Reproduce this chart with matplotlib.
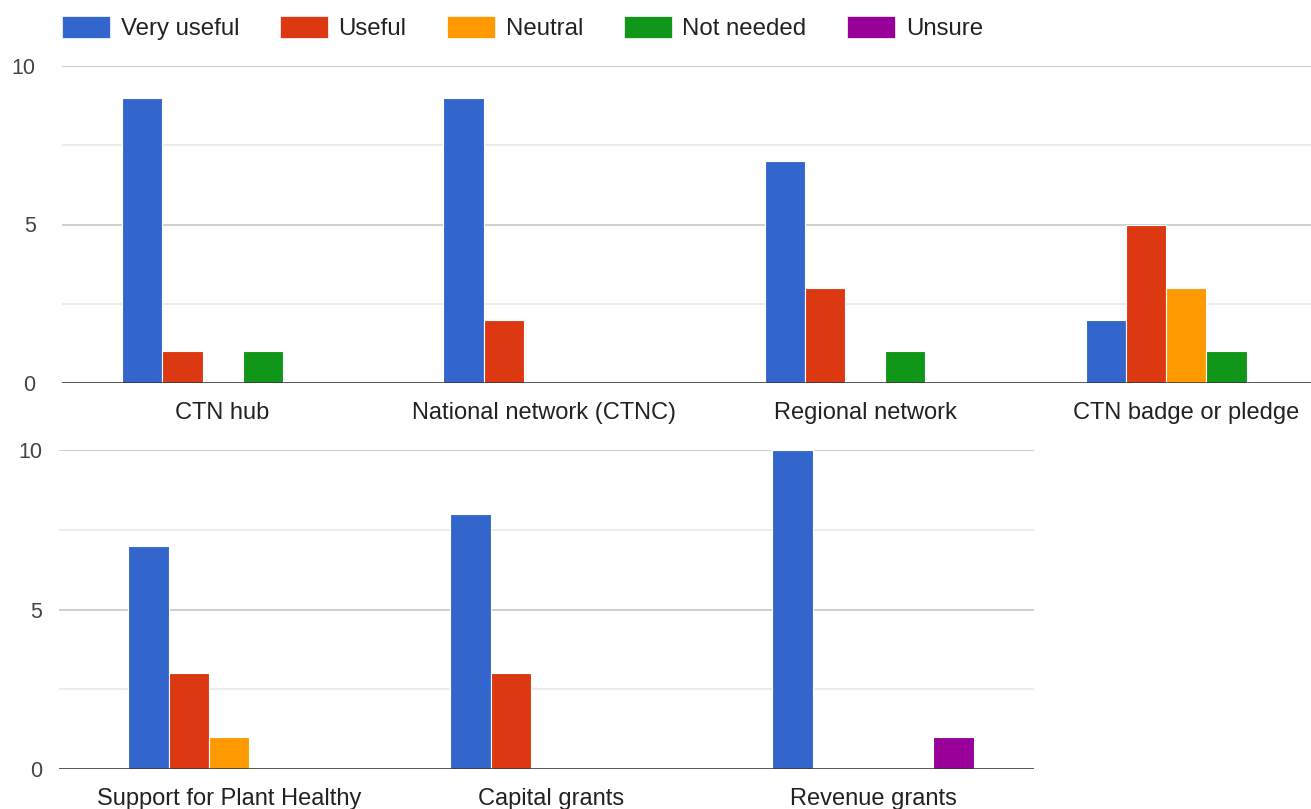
import matplotlib
matplotlib.use("Agg")
import matplotlib.pyplot as plt
from matplotlib.patches import Patch
import numpy as np

plt.rcParams['font.family'] = ['Liberation Sans', 'DejaVu Sans']

responses = ["Very useful", "Useful", "Neutral", "Not needed", "Unsure"]
colors = ["#3366cc", "#dc3912", "#ff9900", "#109618", "#990099"]

top_items = ["CTN hub", "National network (CTNC)", "Regional network", "CTN badge or pledge"]
top_counts = {
    "Very useful": [9, 9, 7, 2],
    "Useful": [1, 2, 3, 5],
    "Neutral": [0, 0, 0, 3],
    "Not needed": [1, 0, 1, 1],
    "Unsure": [0, 0, 0, 0],
}

bottom_items = ["Support for Plant Healthy", "Capital grants", "Revenue grants"]
bottom_counts = {
    "Very useful": [7, 8, 10],
    "Useful": [3, 3, 0],
    "Neutral": [1, 0, 0],
    "Not needed": [0, 0, 0],
    "Unsure": [0, 0, 1],
}

W, H = 1311, 809
fig = plt.figure(figsize=(W / 100, H / 100), dpi=100)


def px_axes(x0, x1, y_top, y_bot):
    return fig.add_axes([x0 / W, (H - y_bot) / H, (x1 - x0) / W, (y_bot - y_top) / H])


def draw_panel(ax, items, counts, xlim, label_pad):
    x = np.arange(len(items))
    bw = 0.125
    for i, r in enumerate(responses):
        vals = np.array(counts[r], dtype=float)
        offs = (i - 2) * bw
        keep = vals > 0
        ax.bar(x[keep] + offs, vals[keep], width=bw, color=colors[i],
               edgecolor="white", linewidth=0.8, zorder=2)
    ax.set_xlim(*xlim)
    ax.set_ylim(0, 10)
    ax.set_yticks([0, 5, 10])
    ax.set_yticks([2.5, 7.5], minor=True)
    ax.grid(axis="y", which="major", color="#cccccc", linewidth=1.3, zorder=0)
    ax.grid(axis="y", which="minor", color="#ebebeb", linewidth=1.3, zorder=0)
    ax.axhline(0, color="#333333", linewidth=1.8, zorder=3)
    for s in ax.spines.values():
        s.set_visible(False)
    ax.set_xticks(x)
    ax.set_xticklabels(items, fontsize=17, color="#222222")
    ax.tick_params(axis="x", length=0, pad=13.5)
    ax.tick_params(axis="y", which="both", length=0, pad=label_pad,
                   labelsize=15.5, labelcolor="#444444")
    ax.set_axisbelow(True)


ax1 = px_axes(62, 1347, 66, 383)
draw_panel(ax1, top_items, top_counts, (-0.5, 3.5), 19)

ax2 = px_axes(59, 1034, 450, 769)
draw_panel(ax2, bottom_items, bottom_counts, (-0.528, 2.5), 12)

handles = [Patch(facecolor=c, edgecolor="white", linewidth=0.5) for c in colors]
fig.legend(handles, responses, loc="upper left", ncol=5,
           bbox_to_anchor=(62 / W, 1 - 16 / H), frameon=False,
           fontsize=17.3, labelcolor="#222222", handlelength=2.0, handleheight=1.0,
           handletextpad=0.45, columnspacing=1.68, borderpad=0, borderaxespad=0)

fig.savefig("out.png", dpi=100)
